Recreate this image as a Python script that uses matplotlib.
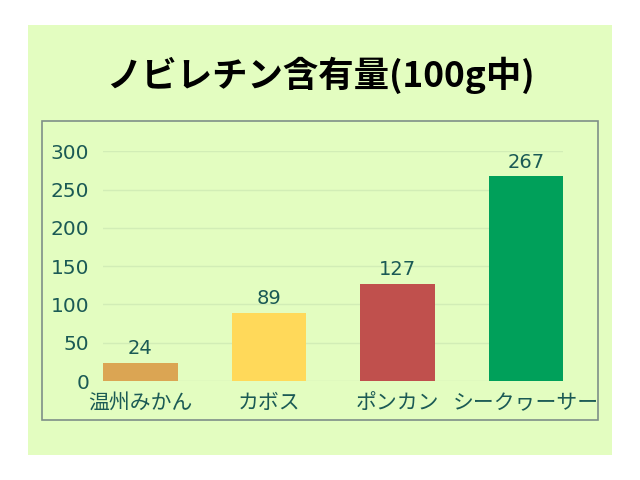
import matplotlib.pyplot as plt
from matplotlib.patches import Rectangle

plt.rcParams["font.family"] = ["Noto Sans CJK JP", "DejaVu Sans"]

# データ
fruits = ["温州みかん", "カボス", "ポンカン", "シークヮーサー"]
nobiletin = [24, 89, 127, 267]
bar_colors = ["#DBA553", "#FFD95A", "#C0504D", "#00A05A"]
yticks = [0, 50, 100, 150, 200, 250, 300]

bg = "#E3FDC0"
txt = "#1B5A55"
num_font = ["DejaVu Sans"]

fig = plt.figure(figsize=(6.4, 4.8), dpi=100)
fig.patch.set_facecolor("white")
# 背景 (緑)
fig.patches.append(Rectangle((0.044, 0.052), 0.912, 0.896, transform=fig.transFigure,
                             facecolor=bg, edgecolor="none", zorder=-2))
# 枠
fig.patches.append(Rectangle((0.066, 0.125), 0.868, 0.623, transform=fig.transFigure,
                             facecolor="none", edgecolor="#7F8F88", linewidth=1.2, zorder=5))

fig.text(0.5, 0.843, "ノビレチン含有量(100g中)", ha="center", va="center",
         fontsize=25.5, fontweight="bold", color="black")

ax = fig.add_axes([0.161, 0.206, 0.719, 0.479])
ax.set_facecolor("none")
x = range(len(fruits))
bars = ax.bar(x, nobiletin, width=0.58, color=bar_colors, zorder=3)
for i, v in zip(x, nobiletin):
    ax.text(i, v + 6, str(v), ha="center", va="bottom", fontsize=14,
            color=txt, family=num_font)

ax.set_xlim(-0.29, 3.29)
ax.set_ylim(0, 300)
ax.set_yticks(yticks)
ax.set_yticklabels([str(t) for t in yticks], fontsize=14.5, color=txt, family=num_font)
ax.set_xticks(list(x))
ax.set_xticklabels(fruits, fontsize=15, color=txt)
ax.tick_params(length=0)
ax.tick_params(axis="x", pad=8)
ax.tick_params(axis="y", pad=10)
ax.grid(axis="y", color="#D2EDB6", linewidth=1, zorder=0)
for s in ax.spines.values():
    s.set_visible(False)

plt.savefig("out.png", dpi=100, facecolor=fig.get_facecolor())
